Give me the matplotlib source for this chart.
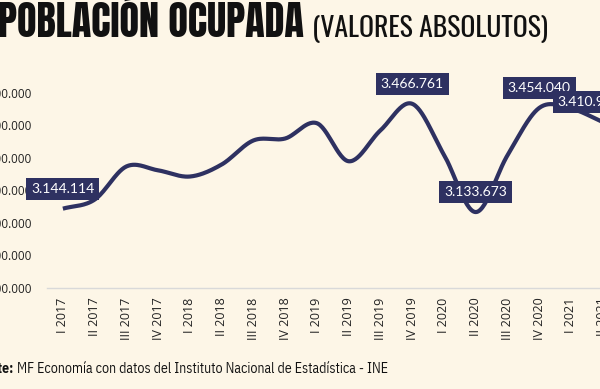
import numpy as np
import matplotlib.pyplot as plt
from matplotlib.ticker import FuncFormatter

# trimestres y poblacion ocupada
trimestres = ["I 2017", "II 2017", "III 2017", "IV 2017",
              "I 2018", "II 2018", "III 2018", "IV 2018",
              "I 2019", "II 2019", "III 2019", "IV 2019",
              "I 2020", "II 2020", "III 2020", "IV 2020",
              "I 2021", "II 2021"]
ocupados = [3144114, 3172000, 3274000, 3262000,
            3243000, 3280000, 3354000, 3360000,
            3407000, 3290000, 3385000, 3466761,
            3310000, 3133673, 3308000, 3454040,
            3452000, 3410950]
# puntos con etiqueta
etiquetas = [0, 11, 13, 15, 17]

fondo = "#FDF6E7"
azul = "#2E3161"
titulo_fuente = ["Anton", "Oswald", "Open Sans", "DejaVu Sans"]
subtitulo_fuente = ["Oswald", "Anton", "Open Sans", "DejaVu Sans"]
nota_fuente = ["IBM Plex Sans Condensed", "DejaVu Sans"]


def fmt_miles(v):
    return f"{int(round(v)):,}".replace(",", ".")


def suavizar(x, y, n=30):
    # curva suavizada tipo excel (catmull-rom)
    x = np.asarray(x, float)
    y = np.asarray(y, float)
    xp = np.concatenate([[2 * x[0] - x[1]], x, [2 * x[-1] - x[-2]]])
    yp = np.concatenate([[2 * y[0] - y[1]], y, [2 * y[-1] - y[-2]]])
    xs, ys = [], []
    t = np.linspace(0, 1, n)
    for i in range(1, len(xp) - 2):
        for arr, out in ((xp, xs), (yp, ys)):
            p0, p1, p2, p3 = arr[i - 1], arr[i], arr[i + 1], arr[i + 2]
            out.extend(0.5 * (2 * p1 + (-p0 + p2) * t
                              + (2 * p0 - 5 * p1 + 4 * p2 - p3) * t ** 2
                              + (-p0 + 3 * p1 - 3 * p2 + p3) * t ** 3))
    return np.array(xs), np.array(ys)


W, H = 600, 389
fig = plt.figure(figsize=(W / 100, H / 100), dpi=100, facecolor=fondo)
ax = fig.add_axes([47 / W, (H - 288) / H, (618.6 - 47) / W, (288 - 93) / H])
ax.set_facecolor(fondo)

x = np.arange(len(trimestres))
xs, ys = suavizar(x, ocupados)
ax.plot(xs, ys, color=azul, lw=3, solid_capstyle="butt", clip_on=False)

for i in etiquetas:
    dx = -10 if i == len(trimestres) - 1 else 0
    ax.annotate(fmt_miles(ocupados[i]), (x[i], ocupados[i]),
                xytext=(dx, 10), textcoords="offset points",
                ha="center", va="bottom", color="white", fontsize=10,
                family="Lato",
                bbox=dict(boxstyle="square,pad=0.35", fc=azul, ec="none"))

ax.set_xlim(-0.5, len(trimestres) - 0.5)
ax.set_ylim(2900000, 3500000)
ax.set_yticks(np.arange(2900000, 3500001, 100000))
ax.yaxis.set_major_formatter(FuncFormatter(lambda v, p: fmt_miles(v)))
ax.set_xticks(x)
ax.set_xticklabels(trimestres, rotation=90, fontsize=9, family="Open Sans",
                   color="#222222")
for lab in ax.get_yticklabels():
    lab.set_fontsize(8.5)
    lab.set_family("Open Sans")
    lab.set_color("#222222")
ax.tick_params(axis="y", length=0, pad=11)
ax.tick_params(axis="x", length=0, pad=7)
for s in ("left", "right", "top"):
    ax.spines[s].set_visible(False)
ax.spines["bottom"].set_color("#D9D9D9")
ax.spines["bottom"].set_linewidth(1)

# titulo
r = fig.canvas.get_renderer()
t1 = fig.text(-2 / W, 1 - 37 / H, "POBLACIÓN OCUPADA", fontsize=29,
              fontweight="bold", fontstretch="condensed", family=titulo_fuente,
              color="#111111", va="baseline", ha="left")
bb = t1.get_window_extent(r)
fig.text((bb.x1 + 8) / W, 1 - 37 / H, "(VALORES ABSOLUTOS)", fontsize=20,
         fontweight="semibold", family=subtitulo_fuente, color="#111111",
         va="baseline", ha="left")

# fuente
s1 = fig.text(13 / W, 1 - 373 / H, "Fuente:", fontsize=10, fontweight="bold",
              family=nota_fuente, color="#111111", va="baseline", ha="right")
fig.text(17 / W, 1 - 373 / H,
         "MF Economía con datos del Instituto Nacional de Estadística - INE",
         fontsize=10, family=nota_fuente, color="#111111", va="baseline")

fig.savefig("out.png", dpi=100, facecolor=fondo)
